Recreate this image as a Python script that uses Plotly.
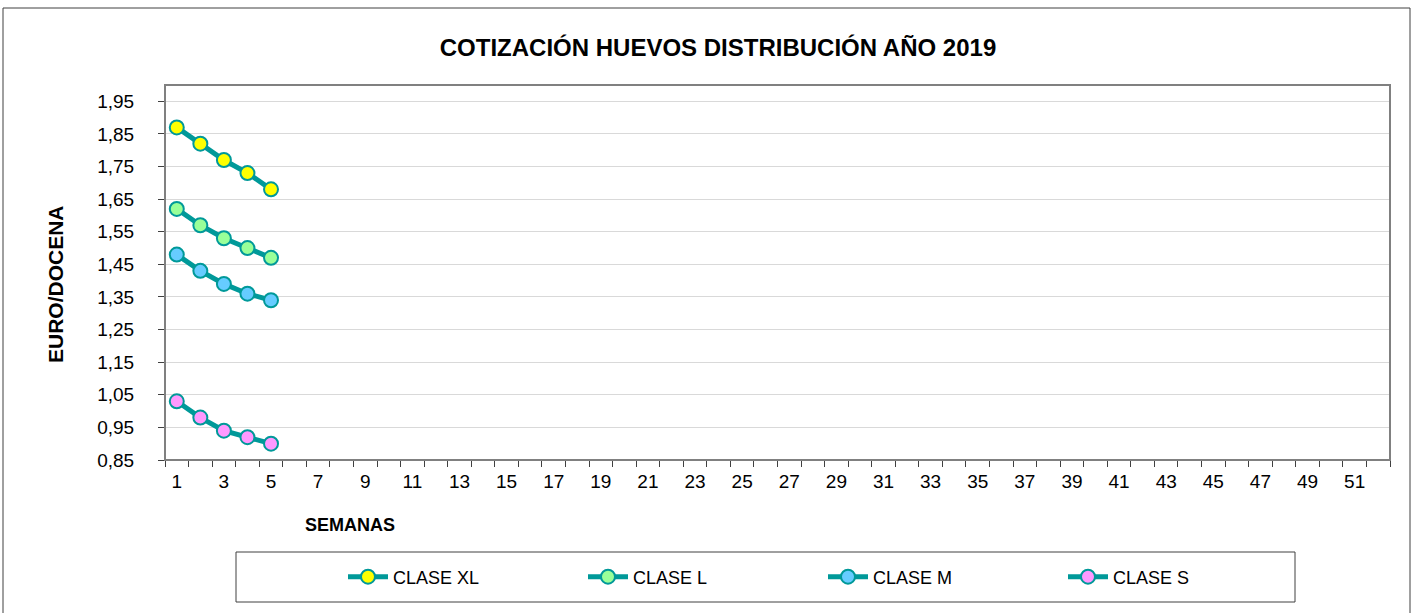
import plotly.graph_objects as go

weeks = [1, 2, 3, 4, 5]
clase_xl = [1.87, 1.82, 1.77, 1.73, 1.68]
clase_l = [1.62, 1.57, 1.53, 1.50, 1.47]
clase_m = [1.48, 1.43, 1.39, 1.36, 1.34]
clase_s = [1.03, 0.98, 0.94, 0.92, 0.90]
series_names = ["CLASE XL", "CLASE L", "CLASE M", "CLASE S"]
marker_colors = ["#FFFF00", "#99FF99", "#66CCFF", "#FF99FF"]
x_tick_labels = list(range(1, 53, 2))
y_ticks = [0.85, 0.95, 1.05, 1.15, 1.25, 1.35, 1.45, 1.55, 1.65, 1.75, 1.85, 1.95]

TEAL = "#009999"
FONT = "Liberation Sans, Arial, sans-serif"

fig = go.Figure()
for name, vals, col in zip(series_names, [clase_xl, clase_l, clase_m, clase_s], marker_colors):
    fig.add_trace(go.Scatter(
        x=weeks, y=vals, name=name, mode="lines+markers",
        line=dict(color=TEAL, width=5),
        marker=dict(color=col, size=14, line=dict(color=TEAL, width=2)),
    ))

L, R, T, B = 165, 22, 85, 153
W, H = 1412, 613
pw, ph = W - L - R, H - T - B

def px_x(p):
    return (p - L) / pw

def px_y(p):
    return (H - B - p) / ph

fig.update_layout(
    width=W, height=H,
    margin=dict(l=L, r=R, t=T, b=B),
    paper_bgcolor="white", plot_bgcolor="white",
    separators=",.",
    font=dict(family=FONT, size=18, color="black"),
    title=dict(text="<b>COTIZACIÓN HUEVOS DISTRIBUCIÓN AÑO 2019</b>",
               x=718 / W, xanchor="center", y=1 - 48 / H, yanchor="middle",
               font=dict(family=FONT, size=24, color="black")),
    showlegend=True,
    legend=dict(orientation="h", x=px_x(343), xanchor="left", y=px_y(577), yanchor="middle",
                yref="paper", font=dict(family=FONT, size=18), bgcolor="rgba(0,0,0,0)",
                entrywidth=185, entrywidthmode="pixels", itemwidth=40),
    xaxis=dict(range=[0.5, 52.5], tickmode="array", tickvals=x_tick_labels,
               ticktext=[str(v) for v in x_tick_labels], ticks="", showgrid=False,
               zeroline=False, showline=False, tickfont=dict(size=19),
               ticklabelstandoff=8,
               minor=dict(tickmode="array", tickvals=[i + 0.5 for i in range(0, 53)],
                          ticks="outside", ticklen=6, tickcolor="#404040", tickwidth=1,
                          showgrid=False)),
    yaxis=dict(range=[0.85, 2.0], tickmode="array", tickvals=y_ticks,
               tickformat=".2f", ticks="outside", ticklen=6, tickcolor="#404040",
               showgrid=True, gridcolor="#D9D9D9", gridwidth=1, zeroline=False,
               showline=False, tickfont=dict(size=19), ticklabelstandoff=20),
)

# plot area border
fig.add_shape(type="rect", xref="paper", yref="paper", x0=0, x1=1, y0=0, y1=1,
              line=dict(color="#808080", width=2), layer="above")
# outer chart border
fig.add_shape(type="rect", xref="paper", yref="paper",
              x0=px_x(3), x1=px_x(1410), y0=px_y(630), y1=px_y(8),
              line=dict(color="#404040", width=1))
# legend box
fig.add_shape(type="rect", xref="paper", yref="paper",
              x0=px_x(236), x1=px_x(1295), y0=px_y(602), y1=px_y(552),
              line=dict(color="#404040", width=1))

fig.add_annotation(text="<b>EURO/DOCENA</b>", xref="paper", yref="paper",
                   x=px_x(55), y=px_y(284), showarrow=False, textangle=-90,
                   font=dict(family=FONT, size=21), xanchor="center", yanchor="middle")
fig.add_annotation(text="<b>SEMANAS</b>", xref="paper", yref="paper",
                   x=px_x(350), y=px_y(525), showarrow=False,
                   font=dict(family=FONT, size=18), xanchor="center", yanchor="middle")

fig.write_html("out.html", config={"displayModeBar": False},
               post_script="document.body.style.margin='0';")
